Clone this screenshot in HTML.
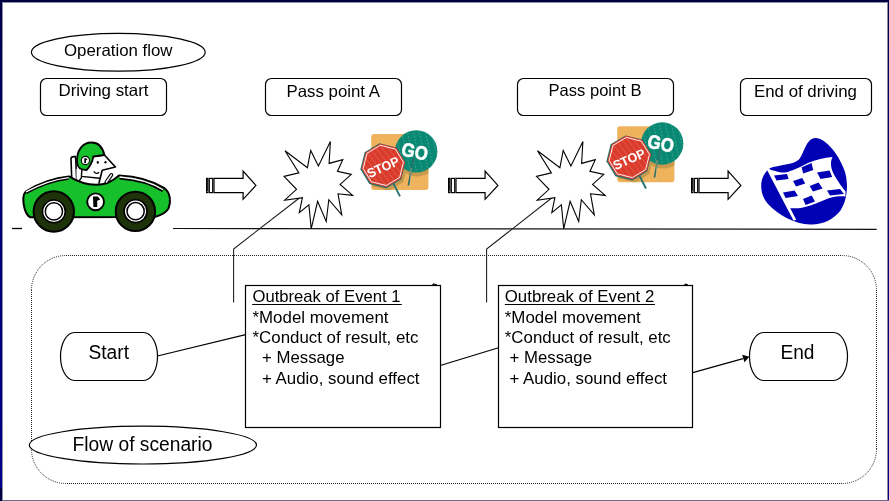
<!DOCTYPE html>
<html><head><meta charset="utf-8">
<style>
html,body{margin:0;padding:0;background:#fff;}
body{width:889px;height:501px;overflow:hidden;position:relative;}
svg{position:absolute;left:0;top:0;will-change:transform;}
text{font-family:"Liberation Sans",sans-serif;fill:#000;}
</style></head>
<body>
<svg width="889" height="501" viewBox="0 0 889 501">
<rect x="0" y="0" width="889" height="501" fill="#fff"/>

<!-- ===== top labels ===== -->
<g fill="none" stroke="#000" stroke-width="1.2">
  <ellipse cx="118.3" cy="52.2" rx="86.9" ry="18.9" fill="#fff"/>
  <rect x="40.5" y="78.5" width="126" height="37" rx="6"/>
  <rect x="265.5" y="78.5" width="136" height="37" rx="6"/>
  <rect x="517.5" y="78.5" width="156" height="37" rx="6"/>
  <rect x="740.5" y="78.5" width="131" height="37" rx="6"/>
</g>
<g font-size="16.5">
  <text x="64" y="55.9" textLength="108.5" lengthAdjust="spacingAndGlyphs">Operation flow</text>
  <text x="58.5" y="96" textLength="90" lengthAdjust="spacingAndGlyphs">Driving start</text>
  <text x="286.5" y="96.7" textLength="93.5" lengthAdjust="spacingAndGlyphs">Pass point A</text>
  <text x="548.5" y="95.8" textLength="93" lengthAdjust="spacingAndGlyphs">Pass point B</text>
  <text x="754" y="96.7" textLength="103" lengthAdjust="spacingAndGlyphs">End of driving</text>
</g>

<!-- ===== road line ===== -->
<g stroke="#000" stroke-width="1.3">
  <line x1="12" y1="228.5" x2="22" y2="228.5"/>
  <line x1="173" y1="228.5" x2="876.7" y2="229.3" stroke="#111" stroke-width="1.2"/>
</g>

<!-- ===== dotted scenario frame ===== -->
<path d="M66.0,255.5 L842.0,255.5 M842.0,255.5 A34.5,34.5 0 0 1 876.5,290.0 M876.5,290.0 L876.5,449.0 M876.5,449.0 A34.5,34.5 0 0 1 842.0,483.5 M842.0,483.5 L66.0,483.5 M66.0,483.5 A34.5,34.5 0 0 1 31.5,449.0 M31.5,449.0 L31.5,290.0 M31.5,290.0 A34.5,34.5 0 0 1 66.0,255.5" fill="none" stroke="#222" stroke-width="1" stroke-dasharray="1 1"/>

<!-- callout lines -->
<g fill="none" stroke="#1a1a1a" stroke-width="1.05">
  <polyline points="300,197.5 233.6,249 233.6,302.5"/>
  <polyline points="552.3,197.5 486.6,249.1 486.6,302.5"/>
</g>

<!-- ===== starbursts ===== -->
<g id="burst" fill="#fff" stroke="#000" stroke-width="1.1" stroke-linejoin="miter">
  <polygon points="285.0,150.8 307.4,167.7 310.7,150.5 318.4,165.9 330.4,141.5 329.1,163.4 342.8,159.7 337.4,171.4 351.3,174.4 340.1,184.4 352.7,195.4 338.0,193.8 341.8,214.8 328.8,199.7 326.2,221.5 317.6,201.3 311.2,228.8 308.9,204.9 299.3,212.7 302.4,197.6 284.7,200.2 296.5,189.3 284.0,176.4 298.9,172.9"/>
</g>
<use href="#burst" transform="translate(252.5,0)"/>

<!-- ===== block arrows ===== -->
<g id="arr" fill="#fff" stroke="#000" stroke-width="1.2">
  <rect x="206.6" y="178.4" width="1.3" height="14.2" fill="#888"/>
  <rect x="209.3" y="178.4" width="3.4" height="14.2"/>
  <polygon points="214,178.4 243.1,178.4 243.1,171 255.9,185.4 243.1,199.3 243.1,192.6 214,192.6"/>
</g>
<use href="#arr" transform="translate(242,0)"/>
<use href="#arr" transform="translate(485,0)"/>

<!-- ===== scenario flow ===== -->
<g fill="none" stroke="#000" stroke-width="1.2">
  <line x1="157.5" y1="356" x2="245.6" y2="334.7"/>
  <line x1="440.3" y1="365.5" x2="498.5" y2="347.8"/>
  <line x1="692.8" y1="372.6" x2="743" y2="358.6"/>
</g>
<polygon points="749.4,356.8 742.2,354.8 744.4,362.2" fill="#000"/>
<g fill="#fff" stroke="#000" stroke-width="1.2">
  <path d="M74.5,332.5 L143.5,332.5 A14,24 0 0 1 143.5,380.5 L74.5,380.5 A14,24 0 0 1 74.5,332.5 Z"/>
  <path d="M763.5,332.5 L833.5,332.5 A14,24 0 0 1 833.5,380.5 L763.5,380.5 A14,24 0 0 1 763.5,332.5 Z"/>
  <rect x="245.5" y="285.5" width="195" height="142"/>
  <rect x="498.5" y="285.5" width="194" height="142"/>
  <ellipse cx="142.9" cy="445.1" rx="113.6" ry="18.9"/>
</g>
<g font-size="19.4">
  <text x="88.5" y="359" textLength="40.5" lengthAdjust="spacingAndGlyphs">Start</text>
  <text x="780.5" y="359" textLength="34" lengthAdjust="spacingAndGlyphs">End</text>
  <text x="72.5" y="450.6" textLength="140" lengthAdjust="spacingAndGlyphs">Flow of scenario</text>
</g>
<g font-size="16.2">
  <text x="252.5" y="301.6" textLength="148" lengthAdjust="spacingAndGlyphs">Outbreak of Event 1</text>
  <text x="252.5" y="322.9" textLength="136" lengthAdjust="spacingAndGlyphs">*Model movement</text>
  <text x="252.5" y="343" textLength="166" lengthAdjust="spacingAndGlyphs">*Conduct of result, etc</text>
  <text x="262" y="363.3" textLength="82.5" lengthAdjust="spacingAndGlyphs">+ Message</text>
  <text x="262" y="383.8" textLength="157.5" lengthAdjust="spacingAndGlyphs">+ Audio, sound effect</text>
  <text x="504.8" y="301.6" textLength="149.5" lengthAdjust="spacingAndGlyphs">Outbreak of Event 2</text>
  <text x="504.8" y="322.9" textLength="136" lengthAdjust="spacingAndGlyphs">*Model movement</text>
  <text x="504.8" y="343" textLength="166" lengthAdjust="spacingAndGlyphs">*Conduct of result, etc</text>
  <text x="509.5" y="363.3" textLength="82.5" lengthAdjust="spacingAndGlyphs">+ Message</text>
  <text x="509.5" y="383.8" textLength="157.5" lengthAdjust="spacingAndGlyphs">+ Audio, sound effect</text>
</g>




<g stroke="#000" stroke-width="1">
  <line x1="252.2" y1="304.5" x2="401.8" y2="304.5"/>
  <line x1="504.8" y1="304.5" x2="655" y2="304.5"/>
</g>
<g stroke="#000" stroke-width="1.1" fill="none">
  <path d="M432.5,285 L433.6,283.9 L437,285"/>
  <path d="M684.5,285 L685.5,284.2 L688,285"/>
</g>

<!-- ===== stop / go signs ===== -->
<defs>
  <clipPath id="sqclip"><rect x="371.2" y="134.1" width="57.2" height="56" rx="3"/></clipPath>
  <clipPath id="goclip"><circle cx="416.2" cy="151.4" r="21.2"/></clipPath>
  <clipPath id="stclip"><polygon points="380.1,143.7 396.3,147.8 405.0,162.2 400.9,178.4 386.5,187.1 370.3,183.0 361.6,168.6 365.7,152.4"/></clipPath>
</defs>
<g id="signs">
  <rect x="371.2" y="134.1" width="57.2" height="56" rx="3" fill="#eeb35c"/>
  <g clip-path="url(#sqclip)" fill="#c79a4e">
    <circle cx="417.0" cy="155.20000000000002" r="21.2"/>
    <polygon points="382.6,147.2 398.8,151.3 407.5,165.7 403.4,181.9 389.0,190.6 372.8,186.5 364.1,172.1 368.2,155.9"/>
  </g>
  <circle cx="416.2" cy="151.4" r="21.2" fill="#098873"/>
  <g clip-path="url(#goclip)" stroke="#4fae9c" stroke-width="0.9" stroke-dasharray="2 1.4" opacity="0.75">
    <line x1="394" y1="126" x2="406" y2="178"/>
    <line x1="400" y1="126" x2="412" y2="178"/>
    <line x1="406" y1="126" x2="418" y2="178"/>
    <line x1="412" y1="126" x2="424" y2="178"/>
    <line x1="418" y1="126" x2="430" y2="178"/>
    <line x1="424" y1="126" x2="436" y2="178"/>
    <line x1="430" y1="126" x2="442" y2="178"/>
    <line x1="436" y1="126" x2="448" y2="178"/>
  </g>
  <line x1="413.9" y1="157.5" x2="408.4" y2="185.5" stroke="#2a6f6a" stroke-width="1.7"/>
  <line x1="411.2" y1="168" x2="410" y2="189.5" stroke="#dcc48e" stroke-width="0.6"/>
  <text x="0" y="0" font-size="19.2" font-weight="bold" style="fill:#fff;stroke:#fff;stroke-width:0.5" transform="translate(400.6,155.2) rotate(12)" textLength="26.5" lengthAdjust="spacingAndGlyphs">GO</text>
  <line x1="393.6" y1="183.9" x2="400" y2="196.4" stroke="#2a7470" stroke-width="1.9"/>
  <polygon points="379.5,143.3 396.5,147.5 405.4,162.4 401.2,179.4 386.3,188.3 369.3,184.1 360.4,169.2 364.6,152.2" fill="#23706a"/>
  <polygon points="380.1,143.7 396.3,147.8 405.0,162.2 400.9,178.4 386.5,187.1 370.3,183.0 361.6,168.6 365.7,152.4" fill="#d93b2c"/>
  <g clip-path="url(#stclip)" stroke="#ec6d5b" stroke-width="0.8" opacity="0.75">
    <line x1="340" y1="140" x2="385" y2="200"/>
    <line x1="346" y1="140" x2="391" y2="200"/>
    <line x1="352" y1="140" x2="397" y2="200"/>
    <line x1="358" y1="140" x2="403" y2="200"/>
    <line x1="364" y1="140" x2="409" y2="200"/>
    <line x1="370" y1="140" x2="415" y2="200"/>
    <line x1="376" y1="140" x2="421" y2="200"/>
    <line x1="382" y1="140" x2="427" y2="200"/>
    <line x1="388" y1="140" x2="433" y2="200"/>
    <line x1="394" y1="140" x2="439" y2="200"/>
    <line x1="400" y1="140" x2="445" y2="200"/>
    <line x1="406" y1="140" x2="451" y2="200"/>
  </g>
  <polygon points="380.3,145.3 395.4,149.1 403.4,162.4 399.6,177.5 386.3,185.5 371.2,181.7 363.2,168.4 367.0,153.3" fill="none" stroke="#fff" stroke-width="0.9"/>
  <text x="0" y="0" font-size="13" font-weight="bold" style="fill:#fff" transform="translate(369.4,178.2) rotate(-24)" textLength="34" lengthAdjust="spacingAndGlyphs">STOP</text>
</g>
<use href="#signs" transform="translate(246,-7.9)"/>

<!-- ===== checkered flag ===== -->
<g id="flag">
  <path d="M769,168.4 C780,164.5 793,165 799,159.5 C804,154 806,138 815.5,138 C826,138 840,156 845,172 C848.5,184 847.5,200 840.5,210.5 C833,220 822,225 810,224.5 C795,224 778,215 768,204 C760,195 757.5,179 769,168.4 Z" fill="#0000b4"/>
  <path d="M768.6,169.4 C776,171 780,172.8 785,172.4 C792,171.5 800,167 808,163 C816,159.5 824,157.5 832.5,157 C829.5,163 831,170 836,178 C839,183 842,187 845.5,191.5 L845.5,196.5 C840,196 834,196.3 828,198.5 C820,201.5 812,205.5 803,207.5 C799,208.3 795,208.5 789.6,208.3 Z" fill="#fff"/>
  <path d="M766.8,169.6 L769.6,168.2 L796.2,219.8 L793.6,220.8 Z" fill="#fff"/>
  <g fill="#0000b4">
    <polygon points="774,175.6 787,174 788.6,179 776.6,180.6"/>
    <polygon points="801.6,167.2 811.6,163 813.2,170 803.2,173.6"/>
    <polygon points="817,172.4 829.6,170.4 832.2,177 820.6,179"/>
    <polygon points="793,181 802.2,178 805.2,183.6 796,186.6"/>
    <polygon points="809.6,186 818.6,182.4 822.6,188.6 813,191.6"/>
    <polygon points="827,190.6 840,189 844,194 830,195.6"/>
    <polygon points="783,192.6 794.6,190.6 798,196 785.6,198"/>
    <polygon points="803,199 811.6,195.6 815,201.6 805.6,205"/>
  </g>
</g>

<!-- ===== car ===== -->
<g id="car" stroke="#000" stroke-linejoin="round" stroke-linecap="round">
  <!-- seat back -->
  <path d="M71,158.5 C71,157.2 72,156.8 73.5,156.6 L75.6,156.6 L76.8,182 L71.8,182 Z" fill="#fff" stroke-width="1.6"/>
  <!-- torso -->
  <path d="M76.6,187 L76.4,169 L93.4,156.5 L104.4,155 L115.4,167 L102.4,170 L108,179 L107,187 Z" fill="#fff" stroke="none"/>
  <path d="M81.9,169.6 L81.4,176.4 L99.6,178.2" fill="none" stroke-width="1.4"/>
  <path d="M81.4,177.6 L77.8,182.8" fill="none" stroke-width="1.4"/>
  <!-- body -->
  <path d="M23.3,199 C23.4,195 24.5,192.5 26.5,191 C40,182.6 55,177.8 69,176.4 C80,183.2 88,184.8 96,184.8 C105,184.8 113,181 119,175.4 C136,176.2 152,180.3 164.5,188.2 C170.5,192.8 171.2,202 168.5,208.5 C166,212.5 160,215.6 154.7,217 L30,217.2 C25,214 23.2,205 23.3,199 Z" fill="#16c02a" stroke-width="2"/>
  <!-- trim -->
  <path d="M26,192.6 C40,185 55,180 68.8,178.3" fill="none" stroke="#000" stroke-width="3" stroke-linecap="butt"/>
  <path d="M26,191.9 C40,184.3 55,179.3 68.8,177.6" fill="none" stroke="#fff" stroke-width="1.3" stroke-linecap="butt"/>
  <path d="M119.5,177.8 C136,178.9 151,182.9 163,190.6" fill="none" stroke="#000" stroke-width="3.2" stroke-linecap="butt"/>
  <path d="M119.5,177 C136,178.1 151,182.1 163,189.8" fill="none" stroke="#fff" stroke-width="1.3" stroke-linecap="butt"/>
  <!-- steering wheel -->
  <line x1="106.4" y1="182" x2="111.4" y2="174.9" stroke-width="3.8"/>
  <line x1="106.4" y1="182" x2="111.4" y2="174.9" stroke="#fff" stroke-width="1.5"/>
  <!-- face -->
  <path d="M93.4,156.5 L104.4,155 L115.4,167 L102.2,170.2 L99,183" fill="none" stroke-width="1.6"/>
  <!-- helmet -->
  <path d="M77.2,163 C76,150 83,142.5 91.4,142.5 C98,142.5 102.6,147 104.4,155 L93.4,156.5 C92.5,161 91.5,165 86.5,170 C81,170 77.6,168 77.2,163 Z" fill="#16c02a" stroke-width="1.8"/>
  <circle cx="85.4" cy="160.5" r="4.1" fill="#fff" stroke-width="1.1"/>
  <path d="M84.3,158.2 L86.3,158.2 L87.4,159.7 L86,160.3 L86,163 L84.3,163 Z" fill="#000" stroke="none"/>
  <ellipse cx="97.8" cy="162.4" rx="1.1" ry="1.3" fill="#000" stroke="none"/>
  <ellipse cx="105.5" cy="162.2" rx="1.1" ry="1.3" fill="#000" stroke="none"/>
  <path d="M94.2,171.8 Q96.4,174.6 98.8,172.6" fill="none" stroke-width="1.3"/>
  <!-- wheels -->
  <circle cx="53.8" cy="211.5" r="20.2" fill="#1e3309" stroke-width="2"/>
  <circle cx="53.9" cy="211.4" r="11.4" fill="#fff" stroke-width="1.6"/>
  <circle cx="53.9" cy="211.4" r="8.6" fill="#fff" stroke-width="1.5"/>
  <circle cx="135.4" cy="211.4" r="19.7" fill="#1e3309" stroke-width="2"/>
  <circle cx="135.6" cy="211.2" r="11.4" fill="#fff" stroke-width="1.6"/>
  <circle cx="135.6" cy="211.2" r="8.6" fill="#fff" stroke-width="1.5"/>
  <!-- emblem -->
  <circle cx="95.6" cy="201.8" r="8.4" fill="#fff" stroke-width="1.9"/>
  <path d="M93,196.6 L97.8,196.6 L100.2,199.6 L97.2,200.8 L97.2,207 L93.4,207 Z" fill="#000" stroke="none"/>
</g>

<!-- ===== window frame ===== -->
<defs>
  <linearGradient id="bordg" x1="0" y1="0" x2="0" y2="1">
    <stop offset="0" stop-color="#000048"/>
    <stop offset="0.35" stop-color="#000070"/>
    <stop offset="1" stop-color="#00008c"/>
  </linearGradient>
</defs>
<rect x="0" y="0" width="2" height="501" fill="url(#bordg)"/>
<rect x="888" y="0" width="1" height="501" fill="url(#bordg)"/>
<rect x="2" y="2" width="885" height="1" fill="#8e8ea6"/>
<rect x="2" y="2" width="1" height="498" fill="#8e8ea6"/>
<rect x="887" y="2" width="1" height="498" fill="#8e8ea6"/>
<rect x="0" y="0" width="889" height="2" fill="#000040"/>
<rect x="0" y="500" width="889" height="1" fill="#6c6c90"/>
<rect x="0" y="488" width="2" height="13" fill="#000040"/>
</svg>
</body></html>
